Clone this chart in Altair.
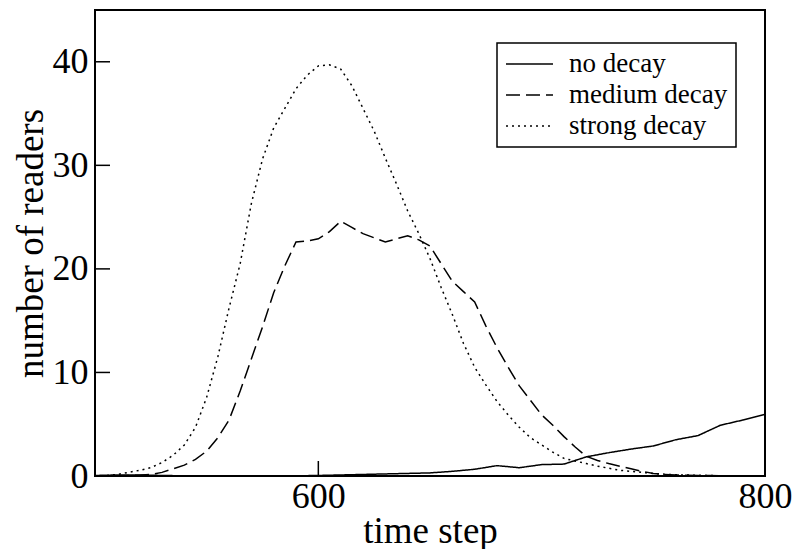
import altair as alt
import pandas as pd

steps_10 = [500, 510, 520, 530, 540, 550, 560, 570, 580, 590,
            600, 610, 620, 630, 640, 650, 660, 670, 680, 690,
            700, 710, 720, 730, 740, 750, 760, 770, 780, 790, 800]
steps_5 = [500, 505, 510, 515, 520, 525, 530, 535, 540, 545,
           550, 555, 560, 565, 570, 575, 580, 585, 590, 595,
           600, 605, 610, 615, 620, 625, 630, 635, 640, 645,
           650, 655, 660, 665, 670, 675, 680, 685, 690, 695,
           700, 705, 710, 715, 720, 725, 730, 735, 740, 745,
           750, 755, 760, 765, 770, 775, 780, 785, 790, 795, 800]

no_decay = [0.05, 0.1, 0.1, 0.05, 0.02, 0.02, 0.02, 0.02, 0.02, 0.02,
            0.05, 0.1, 0.15, 0.2, 0.25, 0.3, 0.45, 0.65, 1.0, 0.8,
            1.1, 1.15, 1.85, 2.25, 2.6, 2.9, 3.5, 3.9, 4.9, 5.4, 5.95]
medium_decay = [0, 0.02, 0.03, 0.05, 0.08, 0.15, 0.35, 0.7, 1.05, 1.6,
                2.4, 3.7, 5.4, 8.2, 11.3, 14.4, 17.7, 20.3, 22.6, 22.7,
                22.9, 23.6, 24.6, 24.0, 23.4, 23.0, 22.6, 22.9, 23.2, 22.8,
                22.2, 20.5, 18.8, 17.8, 16.8, 14.5, 12.4, 10.5, 8.7, 7.3,
                5.9, 4.9, 3.8, 2.8, 1.9, 1.5, 1.2, 0.95, 0.7, 0.45,
                0.25, 0.15, 0.1, 0.07, 0.05, 0.04, 0.03, 0.02, 0.02, 0.01, 0]
strong_decay = [0, 0.05, 0.15, 0.35, 0.55, 0.8, 1.3, 2.0, 3.0, 4.7,
                7.6, 11.5, 16.2, 20.5, 26.3, 30.6, 33.6, 35.5, 37.4, 38.7,
                39.6, 39.7, 39.3, 37.7, 35.5, 33.3, 30.7, 28.2, 25.6, 23.4,
                21.0, 18.2, 15.6, 12.8, 10.5, 8.8, 7.2, 5.9, 4.7, 3.7,
                3.0, 2.3, 1.7, 1.45, 1.2, 0.95, 0.75, 0.55, 0.45, 0.35,
                0.25, 0.18, 0.12, 0.09, 0.07, 0.05, 0.03, 0.02, 0.01, 0.01, 0]
series_names = ["no decay", "medium decay", "strong decay"]
y_ticks = [0, 10, 20, 30, 40]
x_ticks = [600, 800]

rows = []
for name, xs, vals in zip(series_names,
                          [steps_10, steps_5, steps_5],
                          [no_decay, medium_decay, strong_decay]):
    for s, v in zip(xs, vals):
        rows.append({"step": s, "readers": v, "series": name})
df = pd.DataFrame(rows)

FONT = "Liberation Serif"
xscale = alt.Scale(domain=[500, 800], nice=False, zero=False)
yscale = alt.Scale(domain=[0, 45], nice=False)

lines = alt.Chart(df).mark_line(color="black", strokeWidth=1.5, clip=True).encode(
    x=alt.X("step:Q", scale=xscale,
            axis=alt.Axis(values=x_ticks, title="time step", labelPadding=3, titlePadding=-1)),
    y=alt.Y("readers:Q", scale=yscale,
            axis=alt.Axis(values=y_ticks, title="number of readers", labelPadding=7, titlePadding=2)),
    strokeDash=alt.StrokeDash(
        "series:N",
        scale=alt.Scale(domain=series_names, range=[[1, 0], [14, 6], [2, 4]]),
        legend=alt.Legend(
            title=None, orient="none", legendX=402, legendY=33,
            strokeColor="black", padding=8, fillColor="white",
            symbolType="stroke", symbolSize=2209, symbolStrokeWidth=1.5,
            symbolStrokeColor="black", labelFont=FONT, labelFontSize=27,
            labelColor="black", labelOffset=15, rowPadding=4, clipHeight=26,
        ),
    ),
)

ytick_df = pd.DataFrame({"readers": y_ticks})
xtick_df = pd.DataFrame({"step": x_ticks})

yt = alt.Chart(ytick_df).mark_rule(color="black", strokeWidth=1.5).encode(
    y=alt.Y("readers:Q", scale=yscale), x=alt.value(0), x2=alt.value(15)
)
xt = alt.Chart(xtick_df).mark_rule(color="black", strokeWidth=1.5).encode(
    x=alt.X("step:Q", scale=xscale), y=alt.value(466), y2=alt.value(451)
)

chart = (
    alt.layer(lines, yt, xt)
    .properties(
        width=670, height=466,
        padding={"left": 95, "top": 10, "right": 41, "bottom": 73},
        autosize=alt.AutoSizeParams(type="none"),
        background="white",
    )
    .configure(font=FONT)
    .configure_view(stroke="black", strokeWidth=2)
    .configure_axis(
        grid=False, domain=False, ticks=False,
        labelFont=FONT, titleFont=FONT, labelFontSize=36, titleFontSize=37,
        labelColor="black", titleColor="black", titleFontWeight="normal",
        labelFlush=False,
    )
    .configure_legend(strokeWidth=1.5, labelFont=FONT, labelFontSize=27, labelColor="black")
)

chart.save("out.html", embed_options={"renderer": "svg", "actions": False})
